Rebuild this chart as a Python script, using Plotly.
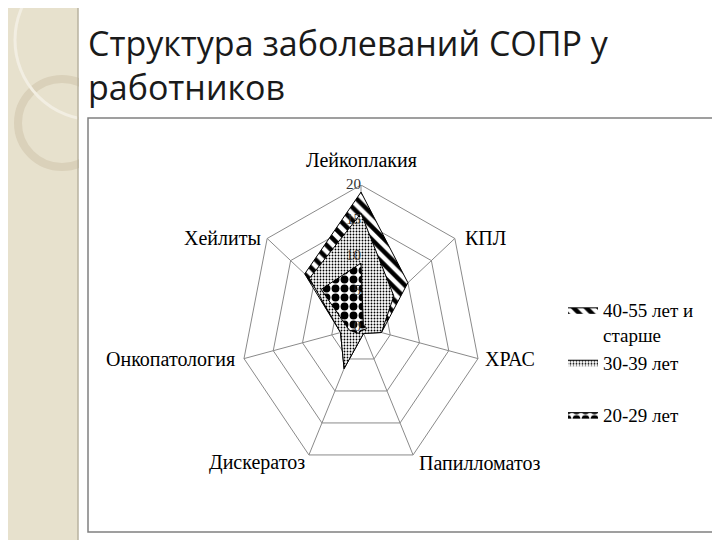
import numpy as np
import plotly.graph_objects as go

categories = ["Лейкоплакия", "КПЛ", "ХРАС", "Папилломатоз", "Дискератоз", "Онкопатология", "Хейлиты"]
series_names = ["40-55 лет и<br>старше", "30-39 лет<br> ", "20-29 лет"]
values_40_55 = [19, 10, 3.5, 1, 6.5, 3.5, 12]
values_30_39 = [16, 7, 3.5, 1, 6.5, 3.5, 11]
values_20_29 = [9, 0.5, 1, 0.5, 1, 2, 8.5]
radial_ticks = [0, 5, 10, 15, 20]

W, H = 720, 540
OFF = 8  # page body margin
def px(x): return (x - OFF) / W
def py(y): return 1 - (y - OFF) / H

RMAX = radial_ticks[-1]
n = len(categories)
ang = 2 * np.pi * np.arange(n) / n

def proj(vals):
    v = np.asarray(vals, dtype=float) / RMAX
    x = v * np.sin(ang)
    y = v * np.cos(ang)
    return list(np.append(x, x[0])), list(np.append(y, y[0]))

patterns = [
    dict(shape="\\", fgcolor="black", bgcolor="white", fgopacity=1, size=9, solidity=0.5),
    dict(shape=".", fgcolor="black", bgcolor="white", fgopacity=1, size=3, solidity=0.3),
    dict(shape=".", fgcolor="black", bgcolor="white", fgopacity=1, size=9, solidity=0.6),
]

fig = go.Figure()
GRID = "#8a8a8a"
for t in radial_ticks[1:]:
    gx, gy = proj([t] * n)
    fig.add_trace(go.Scatter(x=gx, y=gy, mode="lines", line=dict(color=GRID, width=1),
                             showlegend=False, hoverinfo="skip"))
sx, sy = [], []
ex, ey = proj([RMAX] * n)
for k in range(n):
    sx += [0, ex[k], None]
    sy += [0, ey[k], None]
fig.add_trace(go.Scatter(x=sx, y=sy, mode="lines", line=dict(color=GRID, width=1),
                         showlegend=False, hoverinfo="skip"))
for name, vals, pat in zip(series_names, [values_40_55, values_30_39, values_20_29], patterns):
    x, y = proj(vals)
    fig.add_trace(go.Scatter(x=x, y=y, mode="lines", fill="toself", fillcolor="white",
                             fillpattern=pat, name=name, legendgroup=name,
                             line=dict(color="black", width=1), hoverinfo="skip"))
fig.add_trace(go.Scatter(x=[0] * len(radial_ticks), y=[t / RMAX for t in radial_ticks],
                         mode="text", text=[str(t) for t in radial_ticks],
                         textposition="middle left", cliponaxis=False,
                         textfont=dict(family="Liberation Serif", size=15, color="#333333"),
                         showlegend=False, hoverinfo="skip"))

label_style = [
    dict(xanchor="center", yanchor="bottom", xshift=0, yshift=12),
    dict(xanchor="left", yanchor="middle", xshift=8, yshift=0),
    dict(xanchor="left", yanchor="middle", xshift=5, yshift=0),
    dict(xanchor="left", yanchor="middle", xshift=4, yshift=-8),
    dict(xanchor="right", yanchor="middle", xshift=-2, yshift=-8),
    dict(xanchor="right", yanchor="middle", xshift=-7, yshift=0),
    dict(xanchor="right", yanchor="middle", xshift=-4, yshift=0),
]
annotations = []
for k, (cat, st) in enumerate(zip(categories, label_style)):
    annotations.append(dict(text=cat, x=ex[k], y=ey[k], xref="x", yref="y", showarrow=False,
                            font=dict(family="Liberation Serif", size=20, color="black"), **st))
annotations.append(dict(text="Структура заболеваний СОПР у<br>работников", xref="paper", yref="paper",
                        x=px(86), y=py(18), xanchor="left", yanchor="top", showarrow=False, align="left",
                        font=dict(family="Open Sans", size=34, color="#1a1a1a")))

cx, cy, RX, RY = 361, 327, 120, 142
fig.update_layout(
    width=W, height=H, margin=dict(l=0, r=0, t=0, b=0),
    paper_bgcolor="white", plot_bgcolor="rgba(0,0,0,0)",
    showlegend=True,
    legend=dict(x=px(563), y=py(291), xanchor="left", yanchor="top", valign="top",
                font=dict(family="Liberation Serif", size=19, color="black"),
                tracegroupgap=0, bgcolor="rgba(0,0,0,0)", itemwidth=30),
    xaxis=dict(range=[-1, 1], domain=[px(cx - RX), px(cx + RX)], visible=False, fixedrange=True),
    yaxis=dict(range=[-1, 1], domain=[py(cy + RY), py(cy - RY)], visible=False, fixedrange=True),
    shapes=[
        dict(type="rect", xref="paper", yref="paper", x0=px(0), x1=px(78), y0=py(560), y1=py(0),
             fillcolor="#e7e1cd", line=dict(width=0), layer="below"),
        dict(type="circle", xref="paper", yref="paper", x0=px(18), x1=px(106), y0=py(167), y1=py(79),
             fillcolor="rgba(0,0,0,0)", line=dict(color="#dad1ba", width=8), layer="below"),
        dict(type="circle", xref="paper", yref="paper", x0=px(15), x1=px(175), y0=py(120), y1=py(-40),
             fillcolor="rgba(0,0,0,0)", line=dict(color="#f2eee2", width=3), layer="below"),
        dict(type="rect", xref="paper", yref="paper", x0=px(79), x1=1, y0=py(560), y1=py(0),
             fillcolor="white", line=dict(width=0), layer="below"),
        dict(type="line", xref="paper", yref="paper", x0=px(78), x1=px(78), y0=py(560), y1=py(0),
             line=dict(color="#b9b29f", width=1.5), layer="below"),
        dict(type="rect", xref="paper", yref="paper", x0=px(88), x1=px(713), y0=py(532), y1=py(118),
             fillcolor="rgba(0,0,0,0)", line=dict(color="#808080", width=1.5), layer="below"),
    ],
    annotations=annotations,
)
fig.write_html("out.html")
